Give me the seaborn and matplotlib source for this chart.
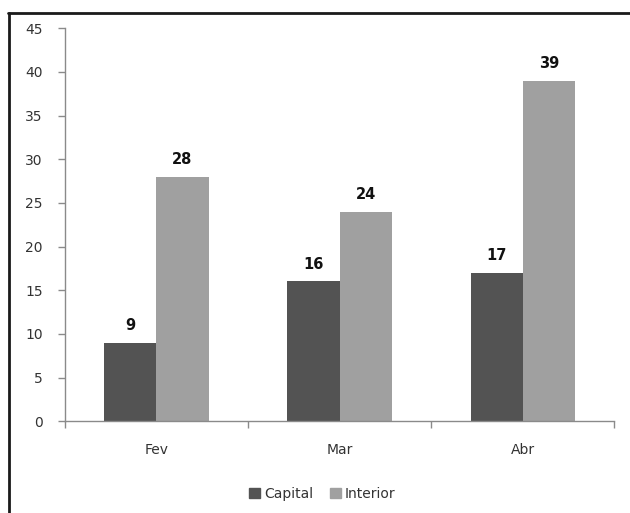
import matplotlib
matplotlib.use("Agg")
import matplotlib.pyplot as plt
from matplotlib.lines import Line2D
import seaborn as sns
import pandas as pd

months = ["Fev", "Mar", "Abr"]
capital = [9, 16, 17]
interior = [28, 24, 39]
series = ["Capital", "Interior"]
yticks = [0, 5, 10, 15, 20, 25, 30, 35, 40, 45]

df = pd.DataFrame({
    "Mês": months * 2,
    "Valor": capital + interior,
    "Série": ["Capital"] * len(months) + ["Interior"] * len(months),
})

sns.set_theme(style="white")
plt.rcParams["font.family"] = ["DejaVu Sans"]

fig = plt.figure(figsize=(6.3, 5.13), dpi=100)
ax = fig.add_axes([0.103, 0.179, 0.872, 0.766])

palette = {"Capital": "#535353", "Interior": "#a0a0a0"}
sns.barplot(data=df, x="Mês", y="Valor", hue="Série", hue_order=series,
            order=months, palette=palette, width=0.57, gap=0,
            saturation=1, edgecolor="none", ax=ax, legend=False)

for cont in ax.containers:
    ax.bar_label(cont, padding=7, fontsize=10.5, fontweight="bold", color="#111111")

ax.set_ylim(0, 45)
ax.set_xlim(-0.5, 2.5)
ax.set_yticks(yticks)
ax.set_xlabel("")
ax.set_ylabel("")

for s in ["top", "right"]:
    ax.spines[s].set_visible(False)
for s in ["left", "bottom"]:
    ax.spines[s].set_color("#8a8a8a")
    ax.spines[s].set_linewidth(1)

ax.tick_params(axis="y", left=True, length=5, width=1, color="#8a8a8a",
               labelsize=10, labelcolor="#333333", pad=11)
ax.tick_params(axis="x", which="major", bottom=False, length=0,
               labelsize=10, labelcolor="#333333", pad=16)
ax.set_xticks([-0.5, 0.5, 1.5, 2.5], minor=True)
ax.tick_params(axis="x", which="minor", bottom=True, length=5, width=1,
               color="#8a8a8a")
for lab in ax.get_yticklabels():
    lab.set_horizontalalignment("right")

handles = [plt.Rectangle((0, 0), 1, 1, color=palette[s]) for s in series]
ax.legend(handles, series, loc="center", bbox_to_anchor=(0.468, -0.185),
          ncol=2, frameon=False, fontsize=10, handlelength=0.8,
          handleheight=0.8, handletextpad=0.3, columnspacing=1.2,
          labelcolor="#333333")

# frame lines along the top and left edges
fig.add_artist(Line2D([8 / 630, 1.0], [1 - 13 / 513, 1 - 13 / 513],
                      transform=fig.transFigure, color="#1a1a1a", lw=2))
fig.add_artist(Line2D([9 / 630, 9 / 630], [0.0, 1 - 13 / 513],
                      transform=fig.transFigure, color="#1a1a1a", lw=2))

fig.savefig("out.png", dpi=100, facecolor="white")
